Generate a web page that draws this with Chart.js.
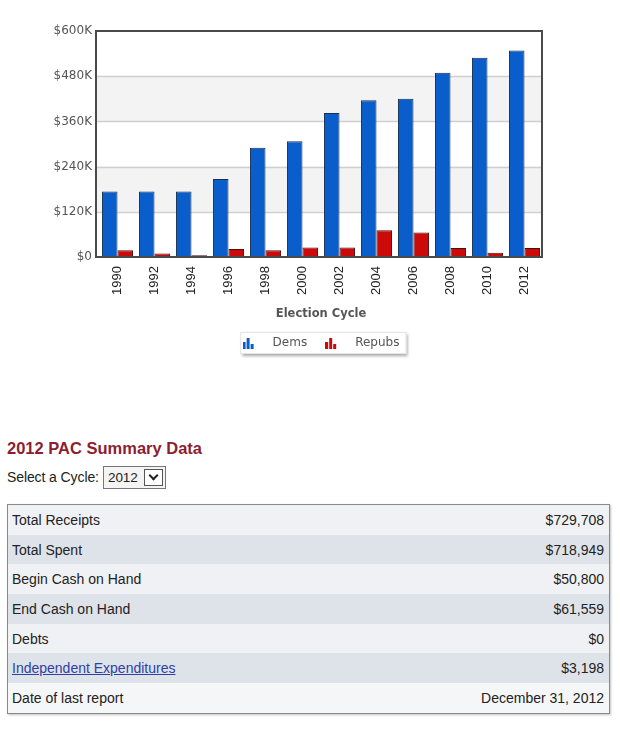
<!DOCTYPE html>
<html>
<head>
<meta charset="utf-8">
<script src="https://cdn.jsdelivr.net/npm/chart.js@4"></script>
<style>
  html, body { margin: 0; padding: 0; background: #fff; }
  body { width: 620px; height: 744px; position: relative; overflow: hidden; font-family: "Liberation Sans", Arial, sans-serif; }
  #chartBox { position: absolute; left: 0; top: 0; width: 620px; height: 372px; }
  h2 { position: absolute; left: 7px; top: 439px; margin: 0; font-size: 16.5px; font-weight: bold; color: #8e1d31; }
  #sel { position: absolute; left: 7px; top: 466px; font-size: 14px; color: #222; height: 23px; line-height: 23px; letter-spacing: -0.1px; }
  #selbox { position: absolute; left: 96px; top: 0px; width: 61px; height: 21px; border: 1px solid #777; background: #f4f4f4; }
  #selbox .v { position: absolute; left: 4px; top: 0; line-height: 21px; font-size: 13.5px; }
  #selbox .arr { position: absolute; right: 2px; top: 2px; width: 17px; height: 15px; border: 1px solid #555; background: #fff; }
  #selbox .arr:after { content: ""; position: absolute; left: 5px; top: 2px; width: 5px; height: 5px; border-right: 2px solid #222; border-bottom: 2px solid #222; transform: rotate(45deg); }
  table { position: absolute; left: 7px; top: 504px; width: 603px; border-collapse: collapse; border: 1px solid #8a8a8a; box-shadow: 1px 1px 2px rgba(0,0,0,0.25); font-size: 14px; color: #222; }
  td { height: 29.7px; padding: 0 5px 0 4px; }
  td.r { text-align: right; }
  tr.a td { background: #eff1f5; }
  tr.b td { background: #dee3ea; }
  tr.c td { background: #f5f6f8; }
  a { color: #2f3fa6; text-decoration: underline; }
</style>
</head>
<body>
<div id="chartBox"><canvas id="c"></canvas></div>

<h2>2012 PAC Summary Data</h2>
<div id="sel">Select a Cycle: <span id="selbox"><span class="v">2012</span><span class="arr"></span></span></div>

<table>
  <tr class="a"><td>Total Receipts</td><td class="r">$729,708</td></tr>
  <tr class="b"><td>Total Spent</td><td class="r">$718,949</td></tr>
  <tr class="a"><td>Begin Cash on Hand</td><td class="r">$50,800</td></tr>
  <tr class="b"><td>End Cash on Hand</td><td class="r">$61,559</td></tr>
  <tr class="a"><td>Debts</td><td class="r">$0</td></tr>
  <tr class="b"><td><a href="#">Independent Expenditures</a></td><td class="r">$3,198</td></tr>
  <tr class="c"><td>Date of last report</td><td class="r">December 31, 2012</td></tr>
</table>

<script>
const cycles = ["1990","1992","1994","1996","1998","2000","2002","2004","2006","2008","2010","2012"];
const dems   = [174000,174000,174000,207000,290000,307000,382000,416000,420000,489000,529000,548000];
const repubs = [18000,9000,4500,21000,18000,25000,25000,71000,65000,24000,11000,24000];
const yTicks = [0,120000,240000,360000,480000,600000];
const seriesNames = ["Dems","Repubs"];
const seriesColors = ["#0a5ecb","#cc0a0a"];

const ICON_W = 24;

function barIcon(color) {
  const c = document.createElement('canvas');
  c.width = ICON_W; c.height = 12;
  const x = c.getContext('2d');
  x.fillStyle = color;
  x.fillRect(0, 5, 3, 7);
  x.fillRect(4, 1, 3, 11);
  x.fillRect(8, 7, 3, 5);
  return c;
}

const bandsPlugin = {
  id: 'bands',
  beforeDatasetsDraw(chart) {
    const {ctx, chartArea: a, scales: {y}} = chart;
    const L = a.left - 3, R = a.right - 1;
    ctx.save();
    for (let i = 0; i < yTicks.length - 1; i++) {
      if (i % 2 === 1) {
        const t = y.getPixelForValue(yTicks[i + 1]);
        const b = y.getPixelForValue(yTicks[i]);
        ctx.fillStyle = '#f3f3f3';
        ctx.fillRect(L, t, R - L, b - t);
      }
    }
    ctx.strokeStyle = '#cfcfcf';
    ctx.lineWidth = 1.5;
    for (let i = 1; i < yTicks.length - 1; i++) {
      const p = Math.round(y.getPixelForValue(yTicks[i])) + 0.5;
      ctx.beginPath(); ctx.moveTo(L, p); ctx.lineTo(R, p); ctx.stroke();
    }
    ctx.restore();
  },
  afterDatasetsDraw(chart) {
    const {ctx, chartArea: a} = chart;
    const L = a.left - 3, R = a.right - 1;
    ctx.save();
    ctx.strokeStyle = '#4a4a4a';
    ctx.lineWidth = 2;
    ctx.strokeRect(L, a.top, R - L, a.bottom - a.top);
    ctx.restore();
  }
};

const legendBoxPlugin = {
  id: 'legendBox',
  beforeDraw(chart) {
    const lg = chart.legend;
    if (!lg || !lg.legendHitBoxes || !lg.legendHitBoxes.length) return;
    const hb = lg.legendHitBoxes;
    const last = hb[hb.length - 1];
    const l = hb[0].left - 2.5;
    const r = last.left + last.width + 7;
    const cy = hb[0].top + hb[0].height / 2;
    const t = cy - 11;
    const b = cy + 11;
    const ctx = chart.ctx;
    ctx.save();
    ctx.shadowColor = 'rgba(0,0,0,0.35)';
    ctx.shadowBlur = 3;
    ctx.shadowOffsetX = 2;
    ctx.shadowOffsetY = 2;
    ctx.fillStyle = '#ffffff';
    ctx.fillRect(l, t, r - l, b - t);
    ctx.restore();
    ctx.save();
    ctx.strokeStyle = '#e4e4e4';
    ctx.lineWidth = 1;
    ctx.strokeRect(l + 0.5, t + 0.5, r - l - 1, b - t - 1);
    ctx.restore();
  }
};

new Chart(document.getElementById('c'), {
  type: 'bar',
  data: {
    labels: cycles,
    datasets: [
      { label: seriesNames[0], data: dems, backgroundColor: seriesColors[0], borderColor: '#17304f', borderWidth: 1 },
      { label: seriesNames[1], data: repubs, backgroundColor: seriesColors[1], borderColor: '#4a1010', borderWidth: 1 }
    ]
  },
  options: {
    responsive: true,
    maintainAspectRatio: false,
    animation: false,
    layout: { padding: { top: 31, right: 77, left: 0, bottom: 13 } },
    datasets: { bar: { categoryPercentage: 0.84, barPercentage: 1.0 } },
    plugins: {
      tooltip: { enabled: false },
      legend: {
        position: 'bottom',
        fullSize: false,
        labels: {
          usePointStyle: true,
          pointStyleWidth: ICON_W,
          boxHeight: 12,
          padding: 18,
          color: '#555',
          font: { family: 'DejaVu Sans', size: 12 },
          generateLabels(chart) {
            return seriesNames.map((n, i) => ({
              text: n, pointStyle: barIcon(seriesColors[i]), fillStyle: seriesColors[i],
              strokeStyle: seriesColors[i], lineWidth: 0, datasetIndex: i, hidden: false, fontColor: '#555'
            }));
          }
        }
      }
    },
    scales: {
      x: {
        offset: true,
        grid: { display: false, drawTicks: false },
        border: { display: false },
        ticks: { minRotation: 90, maxRotation: 90, padding: 9, color: '#222', font: { family: 'Liberation Sans', size: 13 } },
        title: { display: true, text: 'Election Cycle', color: '#555', font: { family: 'DejaVu Sans', size: 11.5, weight: 'bold' }, padding: { top: 0, bottom: -2 } },
        afterFit(s) { s.height = 62; }
      },
      y: {
        min: 0, max: 600000,
        afterBuildTicks(s) { s.ticks = yTicks.map(v => ({ value: v })); },
        grid: { display: false, drawTicks: false },
        border: { display: false },
        ticks: {
          padding: 7, color: '#555', font: { family: 'DejaVu Sans', size: 12 },
          callback(v) { return v === 0 ? '$0' : '$' + (v / 1000) + 'K'; }
        },
        afterFit(s) { s.width = 99; }
      }
    }
  },
  plugins: [bandsPlugin, legendBoxPlugin]
});
</script>
</body>
</html>
